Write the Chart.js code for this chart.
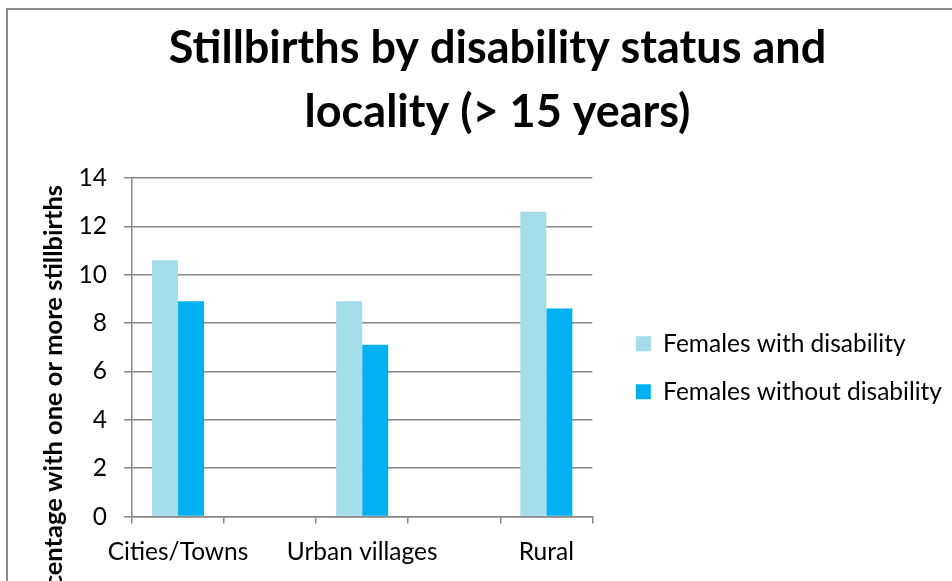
<!DOCTYPE html>
<html>
<head>
<meta charset="utf-8">
<script src="https://cdn.jsdelivr.net/npm/chart.js@4.4.0/dist/chart.umd.min.js"></script>
<style>
    html, body { margin: 0; padding: 0; background: #fff; overflow: hidden; }
    #wrap { position: relative; width: 952px; height: 581px; }
    #frame { position: absolute; left: 6px; top: 8px; width: 1000px; height: 700px; border: 2px solid #8c8c8c; }
    #chart { position: absolute; left: 0; top: 0; }
</style>
</head>
<body>
<div id="wrap">
    <div id="frame"></div>
    <canvas id="chart" width="952" height="581"></canvas>
</div>
<script>
// categories (every other slot is empty in the original sheet)
const categories = ['Cities/Towns', '', 'Urban villages', '', 'Rural'];
const withDisability = [10.6, null, 8.9, null, 12.6];
const withoutDisability = [8.9, null, 7.1, null, 8.6];
const seriesNames = ['Females with disability', 'Females without disability'];
const titleLines = ['Stillbirths by disability status and', 'locality (> 15 years)'];
const yAxisTitle = 'Percentage with one or more stillbirths';
const yMin = 0, yMax = 14, yStep = 2;

const gridColor = '#868686';
const fontFamily = 'Lato, "Noto Sans", sans-serif';

// rotated y title, anchored at its end so the start runs off the bottom like the source
const yTitlePlugin = {
    id: 'yTitle',
    afterDraw(chart) {
        const ctx = chart.ctx;
        ctx.save();
        ctx.translate(54, 185);
        ctx.rotate(-Math.PI / 2);
        ctx.font = 'bold 25.5px ' + fontFamily;
        ctx.fillStyle = '#000';
        ctx.textAlign = 'right';
        ctx.textBaseline = 'middle';
        ctx.fillText(yAxisTitle, 0, 0);
        ctx.restore();
    }
};

function drawChart() {
    const ctx = document.getElementById('chart');

    const data = {
        labels: categories,
        datasets: [{
            label: seriesNames[0],
            data: withDisability,
            backgroundColor: '#A3DDEA',
        },
            {
                label: seriesNames[1],
                data: withoutDisability,
                backgroundColor: '#00B0F0',
            }]
    };

    const config = {
        type: 'bar',
        data: data,
        options: {
            responsive: false,
            animation: false,
            datasets: {
                bar: {
                    categoryPercentage: 0.565,
                    barPercentage: 1.0,
                }
            },
            layout: {
                padding: {left: 43, right: 0, top: 6, bottom: 0}
            },
            scales: {
                x: {
                    grid: {
                        display: true,
                        drawOnChartArea: false,
                        drawTicks: true,
                        tickLength: 7,
                        color: gridColor,
                        lineWidth: 1.5,
                        offset: true,
                    },
                    border: {display: true, color: gridColor, width: 1.5},
                    ticks: {
                        color: '#000',
                        padding: 14,
                        autoSkip: false,
                        maxRotation: 0,
                        font: {family: fontFamily, size: 24.5},
                    }
                },
                y: {
                    min: yMin,
                    max: yMax,
                    afterFit(scale) {
                        scale.width = 89;
                    },
                    grid: {
                        color: gridColor,
                        lineWidth: 1.5,
                        tickLength: 8,
                    },
                    border: {display: true, color: gridColor, width: 1.5},
                    ticks: {
                        stepSize: yStep,
                        color: '#000',
                        padding: 17,
                        font: {family: fontFamily, size: 24.5},
                    }
                },
                gap: {
                    type: 'linear',
                    position: 'right',
                    display: true,
                    grid: {display: false},
                    border: {display: false},
                    ticks: {display: false},
                    afterFit(scale) {
                        scale.width = 20;
                    }
                }
            },
            plugins: {
                title: {
                    display: true,
                    text: titleLines,
                    color: '#000',
                    font: {family: fontFamily, size: 45, weight: 'bold', lineHeight: 1.422},
                    padding: {top: 10, bottom: 34},
                },
                legend: {
                    position: 'right',
                    fullSize: false,
                    maxWidth: 420,
                    title: {
                        display: true,
                        text: '',
                        font: {size: 12, lineHeight: 1},
                        padding: 14.5,
                    },
                    labels: {
                        boxWidth: 15,
                        boxHeight: 15,
                        padding: 23.5,
                        color: '#000',
                        font: {family: fontFamily, size: 24.5},
                    }
                },
                tooltip: {enabled: false}
            }
        },
        plugins: [yTitlePlugin]
    };

    new Chart(ctx, config)
}

document.addEventListener("DOMContentLoaded", function () {
    drawChart()
});
</script>
</body>
</html>
